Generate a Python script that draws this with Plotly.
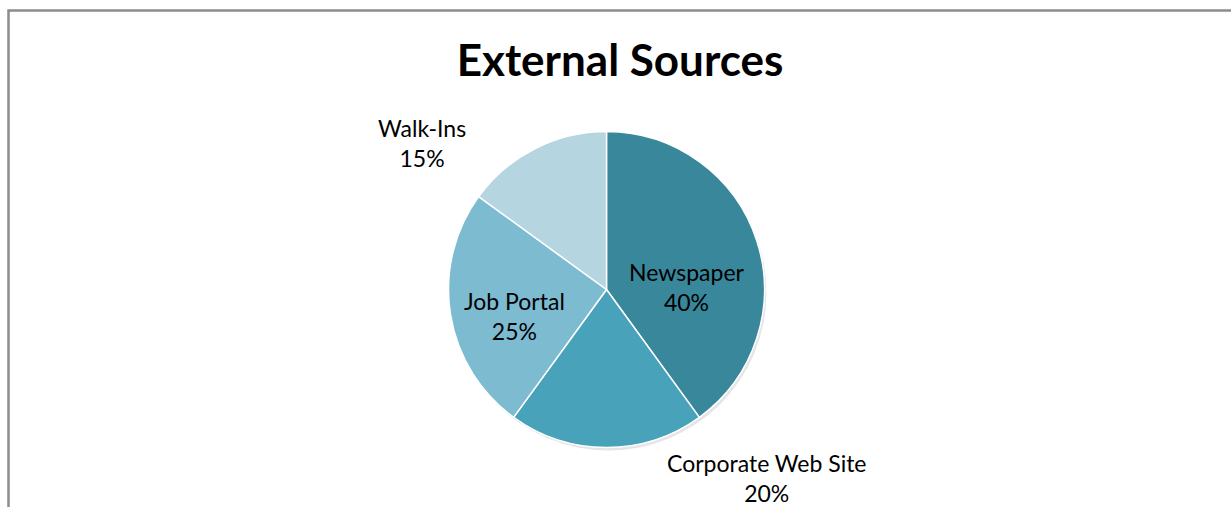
import plotly.graph_objects as go

# Recruitment sources and their shares (%)
sources = ["Newspaper", "Corporate Web Site", "Job Portal", "Walk-Ins"]
shares = [40, 20, 25, 15]
colors = ["#38879B", "#48A2B9", "#7DBBD0", "#B5D5E0"]

# Label anchor points in pixels (x, y from top)
label_px = [(687, 287), (767, 478), (514, 316), (422, 143)]

W, H = 1231, 507
cx, cy, r = 606.5, 289.5, 158

fig = go.Figure()

# soft drop shadow behind the pie
fig.add_trace(go.Pie(
    values=[1],
    marker=dict(colors=["rgba(0,0,0,0.10)"], line=dict(width=0)),
    textinfo="none", hoverinfo="skip", showlegend=False, sort=False,
    domain=dict(x=[(cx - r + 2) / W, (cx + r + 2) / W],
                y=[1 - (cy + r + 3) / H, 1 - (cy - r + 3) / H]),
))

fig.add_trace(go.Pie(
    labels=sources,
    values=shares,
    sort=False,
    direction="clockwise",
    rotation=0,
    marker=dict(colors=colors, line=dict(color="white", width=1.5)),
    textinfo="none",
    showlegend=False,
    domain=dict(x=[(cx - r) / W, (cx + r) / W],
                y=[1 - (cy + r) / H, 1 - (cy - r) / H]),
))

total = sum(shares)
for name, val, (px, py) in zip(sources, shares, label_px):
    fig.add_annotation(
        x=px / W, y=1 - py / H, xref="paper", yref="paper",
        text=f"{name}<br>{round(val / total * 100)}%",
        showarrow=False, xanchor="center", yanchor="middle",
        font=dict(family="Lato", size=23, color="#000000"),
    )

# chart frame
fig.add_shape(type="rect", xref="paper", yref="paper",
              x0=8.5 / W, x1=1.02, y0=-0.02, y1=1 - 10.5 / H,
              line=dict(color="#8C8C8C", width=2.5), fillcolor="rgba(0,0,0,0)")

fig.update_layout(
    width=W, height=H,
    margin=dict(l=0, r=0, t=0, b=0),
    paper_bgcolor="white",
    title=dict(text="<b>External Sources</b>", x=620 / W, y=1 - 61 / H,
               xanchor="center", yanchor="middle",
               font=dict(family="Lato", size=44, color="#000000")),
)

fig.write_html("out.html")
